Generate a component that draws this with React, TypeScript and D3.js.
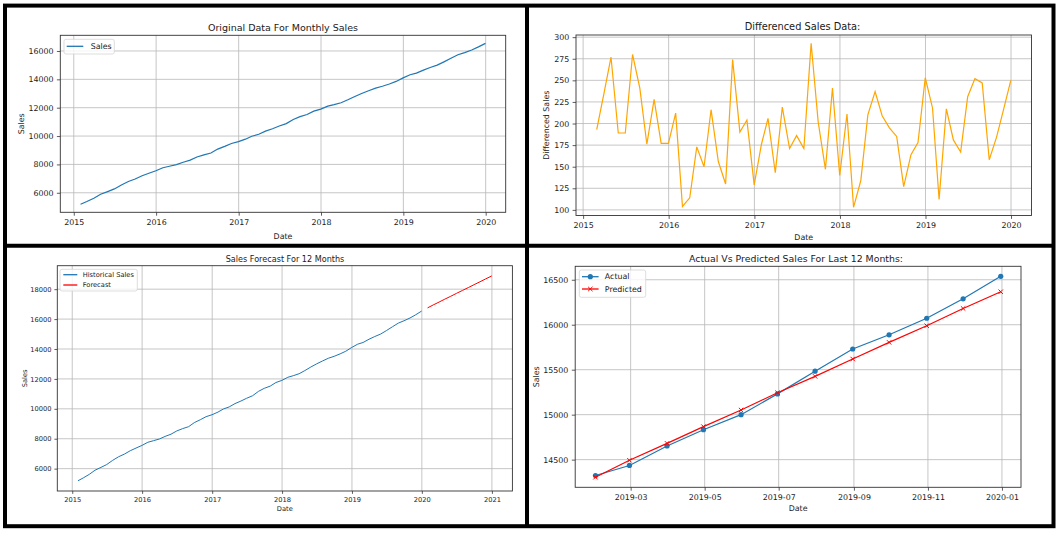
import * as React from 'react';
import * as d3 from 'd3';

// monthly sales, month-end Jan 2015 .. Dec 2019
const SALES = [
  5190, 5383, 5618, 5895, 6084, 6273, 6553, 6794, 6970, 7198, 7375, 7552,
  7764, 7868, 7982, 8155, 8305, 8521, 8677, 8807, 9081, 9271, 9475, 9604,
  9780, 9986, 10129, 10348, 10519, 10705, 10876, 11169, 11371, 11518, 11759, 11899,
  12110, 12213, 12347, 12557, 12794, 13003, 13198, 13383, 13510, 13674, 13852, 14105,
  14323, 14435, 14652, 14833, 15000, 15231, 15483, 15730, 15888, 16072, 16288, 16538,
];

// first difference, Feb 2015 .. Dec 2019
const DIFFS = [
  193, 235, 277, 189, 189, 280, 241, 176, 228, 177, 177,
  212, 104, 114, 173, 150, 216, 156, 130, 274, 190, 204, 129,
  176, 206, 143, 219, 171, 186, 171, 293, 202, 147, 241, 140,
  211, 103, 134, 210, 237, 209, 195, 185, 127, 164, 178, 253,
  218, 112, 217, 181, 167, 231, 252, 247, 158, 184, 216, 250,
];

// 12 month forecast, Jan 2020 .. Dec 2020
const FORECAST = [16750, 16944, 17138, 17332, 17526, 17720, 17914, 18108, 18302, 18496, 18690, 18885];

// last 12 months, Jan 2019 .. Dec 2019
const ACTUAL = [14323, 14435, 14652, 14833, 15000, 15231, 15483, 15730, 15888, 16072, 16288, 16538];
const PREDICTED = [14304, 14493, 14681, 14867, 15052, 15244, 15426, 15619, 15804, 15989, 16181, 16367];

const TL_Y_TICKS = [6000, 8000, 10000, 12000, 14000, 16000];
const TR_Y_TICKS = [100, 125, 150, 175, 200, 225, 250, 275, 300];
const BL_Y_TICKS = [6000, 8000, 10000, 12000, 14000, 16000, 18000];
const BR_Y_TICKS = [14500, 15000, 15500, 16000, 16500];

const W = 1064;
const H = 540;
const FONT = '"DejaVu Sans", sans-serif';
const TEXT = '#1a1a1a';
const GRID = '#b8b8b8';
const SPINE = '#333';
const BLUE = '#1f77b4';
const ORANGE = '#ffa500';
const RED = '#ff0000';

// month-end dates, same as pandas 'M' frequency
const monthEnds = (year: number, month0: number, n: number) =>
  d3.range(n).map((i) => new Date(year, month0 + i + 1, 0));

const padExtent = (lo: number, hi: number) => {
  const m = (hi - lo) * 0.05;
  return [lo - m, hi + m];
};

type Panel = {
  left: number; right: number; top: number; bottom: number;
  fs: number; titleFs: number; k: number;
  title: string; titleX: number; titleY: number;
  xLabelY: number; yLabel: string; yLabelX: number;
};

type Sel = d3.Selection<SVGGElement, unknown, null, undefined>;

function drawAxes(
  root: Sel,
  p: Panel,
  x: d3.ScaleTime<number, number>,
  y: d3.ScaleLinear<number, number>,
  xTicks: Date[],
  xFmt: (d: Date) => string,
  yTicks: number[],
) {
  const g = root.append('g');
  const tick = 3.4 * p.k;
  // grid
  g.append('g')
    .selectAll('line')
    .data(xTicks)
    .join('line')
    .attr('x1', (d) => x(d)).attr('x2', (d) => x(d))
    .attr('y1', p.top).attr('y2', p.bottom)
    .attr('stroke', GRID).attr('stroke-width', 0.8);
  g.append('g')
    .selectAll('line')
    .data(yTicks)
    .join('line')
    .attr('x1', p.left).attr('x2', p.right)
    .attr('y1', (d) => y(d)).attr('y2', (d) => y(d))
    .attr('stroke', GRID).attr('stroke-width', 0.8);

  g.append('g')
    .attr('transform', `translate(0,${p.bottom})`)
    .call(d3.axisBottom(x).tickValues(xTicks).tickFormat(xFmt as any).tickSize(tick).tickSizeOuter(0).tickPadding(tick))
    .call((a) => a.select('.domain').remove())
    .call((a) => a.selectAll('line').attr('stroke', SPINE).attr('stroke-width', 0.8))
    .call((a) => a.selectAll('text').attr('fill', TEXT))
    .attr('font-family', FONT).attr('font-size', p.fs);

  g.append('g')
    .attr('transform', `translate(${p.left},0)`)
    .call(d3.axisLeft(y).tickValues(yTicks).tickFormat(d3.format('d') as any).tickSize(tick).tickSizeOuter(0).tickPadding(tick))
    .call((a) => a.select('.domain').remove())
    .call((a) => a.selectAll('line').attr('stroke', SPINE).attr('stroke-width', 0.8))
    .call((a) => a.selectAll('text').attr('fill', TEXT))
    .attr('font-family', FONT).attr('font-size', p.fs);

  const t = g.append('g').attr('font-family', FONT).attr('fill', TEXT).attr('text-anchor', 'middle');
  t.append('text').attr('x', p.titleX).attr('y', p.titleY).attr('dy', '0.35em')
    .attr('font-size', p.titleFs).text(p.title);
  t.append('text').attr('x', (p.left + p.right) / 2).attr('y', p.xLabelY).attr('dy', '0.35em')
    .attr('font-size', p.fs).text('Date');
  t.append('text').attr('transform', `translate(${p.yLabelX},${(p.top + p.bottom) / 2}) rotate(-90)`)
    .attr('dy', '0.35em').attr('font-size', p.fs).text(p.yLabel);
}

function drawSpines(root: Sel, p: Panel) {
  root.append('rect')
    .attr('x', p.left).attr('y', p.top)
    .attr('width', p.right - p.left).attr('height', p.bottom - p.top)
    .attr('fill', 'none').attr('stroke', SPINE).attr('stroke-width', 0.9);
}

type LegendItem = { label: string; color: string; marker?: 'o' | 'x' };

function drawLegend(
  root: Sel,
  box: { x: number; y: number; w: number; h: number },
  items: LegendItem[],
  rows: number[],
  lineX: [number, number],
  textX: number,
  fs: number,
) {
  const g = root.append('g');
  g.append('rect')
    .attr('x', box.x).attr('y', box.y).attr('width', box.w).attr('height', box.h)
    .attr('rx', 2).attr('fill', '#fff').attr('fill-opacity', 0.8)
    .attr('stroke', '#d4d4d4').attr('stroke-width', 0.8);
  items.forEach((it, i) => {
    const cy = rows[i];
    g.append('line')
      .attr('x1', lineX[0]).attr('x2', lineX[1]).attr('y1', cy).attr('y2', cy)
      .attr('stroke', it.color).attr('stroke-width', 1.3);
    const mx = (lineX[0] + lineX[1]) / 2;
    if (it.marker === 'o') {
      g.append('circle').attr('cx', mx).attr('cy', cy).attr('r', 2.6).attr('fill', it.color);
    } else if (it.marker === 'x') {
      g.append('path').attr('d', `M${mx - 2.2},${cy - 2.2}L${mx + 2.2},${cy + 2.2}M${mx - 2.2},${cy + 2.2}L${mx + 2.2},${cy - 2.2}`)
        .attr('stroke', it.color).attr('stroke-width', 1);
    }
    g.append('text')
      .attr('x', textX).attr('y', cy).attr('dy', '0.35em')
      .attr('font-family', FONT).attr('font-size', fs).attr('fill', TEXT)
      .text(it.label);
  });
}

const yearFmt = d3.timeFormat('%Y');
const monthFmt = d3.timeFormat('%Y-%m');

export default function App() {
  const svgRef = React.useRef<SVGSVGElement | null>(null);

  React.useEffect(() => {
    if (!svgRef.current) return;
    const svg = d3.select(svgRef.current);
    svg.selectAll('*').remove();
    const root = svg.append('g') as unknown as Sel;

    root.append('rect').attr('width', W).attr('height', H).attr('fill', '#fff');

    const salesDates = monthEnds(2015, 0, SALES.length);
    const diffDates = monthEnds(2015, 1, DIFFS.length);
    const fcDates = monthEnds(2020, 0, FORECAST.length);
    const lastDates = monthEnds(2019, 0, ACTUAL.length);

    const timeDomain = (a: Date, b: Date) => {
      const [lo, hi] = padExtent(+a, +b);
      return [new Date(lo), new Date(hi)];
    };

    // ---- top left: original series
    const tl: Panel = {
      left: 60.3, right: 505.7, top: 35.3, bottom: 212.3,
      fs: 7.9, titleFs: 9.5, k: 1,
      title: 'Original Data For Monthly Sales', titleX: 283, titleY: 27.5,
      xLabelY: 236, yLabel: 'Sales', yLabelX: 21.3,
    };
    {
      const x = d3.scaleTime().domain(timeDomain(salesDates[0], salesDates[salesDates.length - 1])).range([tl.left, tl.right]);
      const y = d3.scaleLinear().domain(padExtent(d3.min(SALES)!, d3.max(SALES)!)).range([tl.bottom, tl.top]);
      drawAxes(root, tl, x, y, x.ticks(d3.timeYear.every(1)!), yearFmt, TL_Y_TICKS);
      const line = d3.line<number>().x((_, i) => x(salesDates[i])).y((d) => y(d));
      root.append('path').datum(SALES).attr('d', line).attr('fill', 'none').attr('stroke', BLUE).attr('stroke-width', 1.2);
      drawSpines(root, tl);
      drawLegend(root, { x: 64, y: 39.3, w: 50.3, h: 14.7 }, [{ label: 'Sales', color: BLUE }], [46.3], [66.7, 83.3], 90.7, tl.fs);
    }

    // ---- top right: differenced
    const tr: Panel = {
      left: 576, right: 1031.5, top: 35, bottom: 215.5,
      fs: 7.9, titleFs: 9.8, k: 1,
      title: 'Differenced Sales Data:', titleX: 802.5, titleY: 26.5,
      xLabelY: 237.3, yLabel: 'Differenced Sales', yLabelX: 546.7,
    };
    {
      const x = d3.scaleTime().domain(timeDomain(diffDates[0], diffDates[diffDates.length - 1])).range([tr.left, tr.right]);
      const y = d3.scaleLinear().domain(padExtent(d3.min(DIFFS)!, d3.max(DIFFS)!)).range([tr.bottom, tr.top]);
      drawAxes(root, tr, x, y, x.ticks(d3.timeYear.every(1)!), yearFmt, TR_Y_TICKS);
      const line = d3.line<number>().x((_, i) => x(diffDates[i])).y((d) => y(d));
      root.append('path').datum(DIFFS).attr('d', line).attr('fill', 'none').attr('stroke', ORANGE).attr('stroke-width', 1.2);
      drawSpines(root, tr);
    }

    // ---- bottom left: forecast
    const bl: Panel = {
      left: 57.3, right: 512.4, top: 265.7, bottom: 491,
      fs: 6.7, titleFs: 8.1, k: 0.85,
      title: 'Sales Forecast For 12 Months', titleX: 285, titleY: 259,
      xLabelY: 508.7, yLabel: 'Sales', yLabelX: 24.7,
    };
    {
      const x = d3.scaleTime().domain(timeDomain(salesDates[0], fcDates[fcDates.length - 1])).range([bl.left, bl.right]);
      const y = d3.scaleLinear()
        .domain(padExtent(Math.min(d3.min(SALES)!, d3.min(FORECAST)!), Math.max(d3.max(SALES)!, d3.max(FORECAST)!)))
        .range([bl.bottom, bl.top]);
      drawAxes(root, bl, x, y, x.ticks(d3.timeYear.every(1)!), yearFmt, BL_Y_TICKS);
      const hist = d3.line<number>().x((_, i) => x(salesDates[i])).y((d) => y(d));
      const fc = d3.line<number>().x((_, i) => x(fcDates[i])).y((d) => y(d));
      root.append('path').datum(SALES).attr('d', hist).attr('fill', 'none').attr('stroke', BLUE).attr('stroke-width', 1.0);
      root.append('path').datum(FORECAST).attr('d', fc).attr('fill', 'none').attr('stroke', RED).attr('stroke-width', 1.0);
      drawSpines(root, bl);
      drawLegend(
        root, { x: 60, y: 269.3, w: 77.3, h: 21.7 },
        [{ label: 'Historical Sales', color: BLUE }, { label: 'Forecast', color: RED }],
        [274.7, 285], [63.3, 77.3], 82.7, bl.fs,
      );
    }

    // ---- bottom right: actual vs predicted
    const br: Panel = {
      left: 575.2, right: 1021, top: 266.3, bottom: 487.3,
      fs: 7.9, titleFs: 9.4, k: 1,
      title: 'Actual Vs Predicted Sales For Last 12 Months:', titleX: 796, titleY: 258.3,
      xLabelY: 508, yLabel: 'Sales', yLabelX: 536.3,
    };
    {
      const x = d3.scaleTime().domain(timeDomain(lastDates[0], lastDates[lastDates.length - 1])).range([br.left, br.right]);
      const all = ACTUAL.concat(PREDICTED);
      const y = d3.scaleLinear().domain(padExtent(d3.min(all)!, d3.max(all)!)).range([br.bottom, br.top]);
      drawAxes(root, br, x, y, x.ticks(d3.timeMonth.every(2)!), monthFmt, BR_Y_TICKS);
      const line = d3.line<number>().x((_, i) => x(lastDates[i])).y((d) => y(d));
      root.append('path').datum(ACTUAL).attr('d', line).attr('fill', 'none').attr('stroke', BLUE).attr('stroke-width', 1.2);
      root.append('g').selectAll('circle').data(ACTUAL).join('circle')
        .attr('cx', (_, i) => x(lastDates[i])).attr('cy', (d) => y(d)).attr('r', 2.6).attr('fill', BLUE);
      root.append('path').datum(PREDICTED).attr('d', line).attr('fill', 'none').attr('stroke', RED).attr('stroke-width', 1.2);
      root.append('g').selectAll('path').data(PREDICTED).join('path')
        .attr('d', (d, i) => {
          const cx = x(lastDates[i]);
          const cy = y(d);
          const s = 2.2;
          return `M${cx - s},${cy - s}L${cx + s},${cy + s}M${cx - s},${cy + s}L${cx + s},${cy - s}`;
        })
        .attr('stroke', RED).attr('stroke-width', 1);
      drawSpines(root, br);
      drawLegend(
        root, { x: 579.3, y: 270, w: 66.4, h: 27.3 },
        [{ label: 'Actual', color: BLUE, marker: 'o' }, { label: 'Predicted', color: RED, marker: 'x' }],
        [276.7, 289], [582, 598.6], 604.8, br.fs,
      );
    }

    // black frames around the four panels
    const frame = root.append('g').attr('stroke', '#000').attr('stroke-width', 4).attr('fill', 'none');
    frame.append('rect').attr('x', 5).attr('y', 5.6).attr('width', 1048.5).attr('height', 520.6);
    frame.append('line').attr('x1', 527).attr('x2', 527).attr('y1', 5.6).attr('y2', 526.2);
    frame.append('line').attr('x1', 5).attr('x2', 1053.5).attr('y1', 245.7).attr('y2', 245.7);
  }, []);

  return (
    <div style={{ position: 'absolute', left: 0, top: 0 }}>
      <svg ref={svgRef} width={W} height={H} style={{ display: 'block' }} />
    </div>
  );
}
